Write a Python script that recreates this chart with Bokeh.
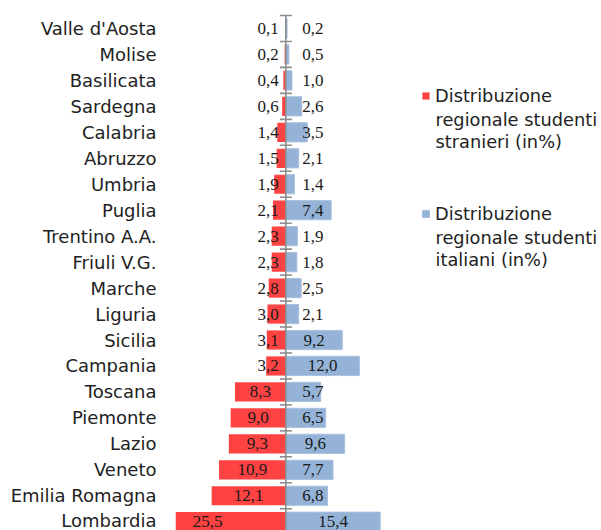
import numpy as np
from bokeh.plotting import figure
from bokeh.models import Range1d, FixedTicker, Legend, LegendItem, ColumnDataSource, Label
from bokeh.core.properties import value
from bokeh.embed import file_html
from bokeh.resources import INLINE

regions = ["Valle d'Aosta", "Molise", "Basilicata", "Sardegna", "Calabria", "Abruzzo",
           "Umbria", "Puglia", "Trentino A.A.", "Friuli V.G.", "Marche", "Liguria",
           "Sicilia", "Campania", "Toscana", "Piemonte", "Lazio", "Veneto",
           "Emilia Romagna", "Lombardia"]
stranieri = [0.1, 0.2, 0.4, 0.6, 1.4, 1.5, 1.9, 2.1, 2.3, 2.3, 2.8, 3.0, 3.1, 3.2,
             8.3, 9.0, 9.3, 10.9, 12.1, 25.5]
italiani = [0.2, 0.5, 1.0, 2.6, 3.5, 2.1, 1.4, 7.4, 1.9, 1.8, 2.5, 2.1, 9.2, 12.0,
            5.7, 6.5, 9.6, 7.7, 6.8, 15.4]
legend_lines = [["Distribuzione", "regionale studenti", "stranieri (in%)"],
                ["Distribuzione", "regionale studenti", "italiani (in%)"]]

RED = "#FF4343"
BLUE = "#95B3D7"
GREY = "#8C8C8C"
TXT = "#222222"

n = len(regions)
s = np.array(stranieri)
it = np.array(italiani)
ypos = np.arange(n)[::-1].astype(float)

def fmt(v):
    return f"{v:.1f}".replace(".", ",")

src = ColumnDataSource(dict(
    y=ypos, s_left=-s, s_zero=np.zeros(n), it=it,
    s_lx=-np.maximum(s / 2, 2.9), it_lx=np.maximum(it / 2, 4.4),
    s_txt=[fmt(v) for v in s], it_txt=[fmt(v) for v in it],
))

p = figure(width=601, height=530,
           x_range=Range1d(-18, 51.5), y_range=Range1d(-0.338, 20.078),
           output_backend="svg", toolbar_location=None,
           min_border_left=175, min_border_right=0, min_border_top=0, min_border_bottom=0)
p.xaxis.visible = False
p.grid.visible = False
p.outline_line_color = None
p.background_fill_color = "white"

yax = p.yaxis[0]
yax.ticker = FixedTicker(ticks=list(range(n)))
yax.major_label_overrides = {int(y): name for y, name in zip(ypos, regions)}
yax.axis_line_color = None
yax.major_tick_line_color = None
yax.minor_tick_line_color = None
yax.major_tick_out = 0
yax.major_tick_in = 0
yax.major_label_standoff = 19
yax.major_label_text_font = "DejaVu Sans"
yax.major_label_text_font_size = "18px"
yax.major_label_text_color = TXT

r_red = p.hbar(y="y", left="s_left", right="s_zero", height=0.74, source=src,
               fill_color=RED, line_color=None)
r_blue = p.hbar(y="y", left="s_zero", right="it", height=0.74, source=src,
                fill_color=BLUE, line_color="#A9C1DF", line_width=1)

# central axis with ticks at category boundaries
p.segment(x0=[0], y0=[n - 0.5], x1=[0], y1=[-1], line_color=GREY, line_width=1.6)
p.scatter(x=np.zeros(n + 1), y=np.arange(n + 1) - 0.5, marker="dash", size=12,
          line_color=GREY, line_width=1.6)

p.text(x="s_lx", y="y", text="s_txt", source=src, text_font=value("Liberation Serif"),
       text_font_size="17px", text_align="center", text_baseline="middle",
       text_color="#1a1a1a")
p.text(x="it_lx", y="y", text="it_txt", source=src, text_font=value("Liberation Serif"),
       text_font_size="17px", text_align="center", text_baseline="middle",
       text_color="#1a1a1a")

# legend: square + first line as Legend, following lines as labels (screen units, frame-relative)
leg_x = 246
leg_bottoms = [424, 306]
for renderer, lines, lb in zip([r_red, r_blue], legend_lines, leg_bottoms):
    lg = Legend(items=[LegendItem(label=lines[0], renderers=[renderer])],
                location=(leg_x, lb), orientation="vertical",
                border_line_color=None, background_fill_alpha=0,
                padding=0, margin=0, label_height=20,
                glyph_width=9, glyph_height=9, label_standoff=5,
                label_text_font="DejaVu Sans", label_text_font_size="17.8px",
                label_text_color=TXT)
    p.add_layout(lg)
    top_center = lb + 10
    for k, line in enumerate(lines[1:], start=1):
        p.add_layout(Label(x=leg_x + 14, y=top_center - 22.5 * k, x_units="screen",
                           y_units="screen", text=line, text_font="DejaVu Sans",
                           text_font_size="17.8px", text_color=TXT,
                           text_align="left", text_baseline="middle"))

open("out.html", "w").write(file_html(p, INLINE))
